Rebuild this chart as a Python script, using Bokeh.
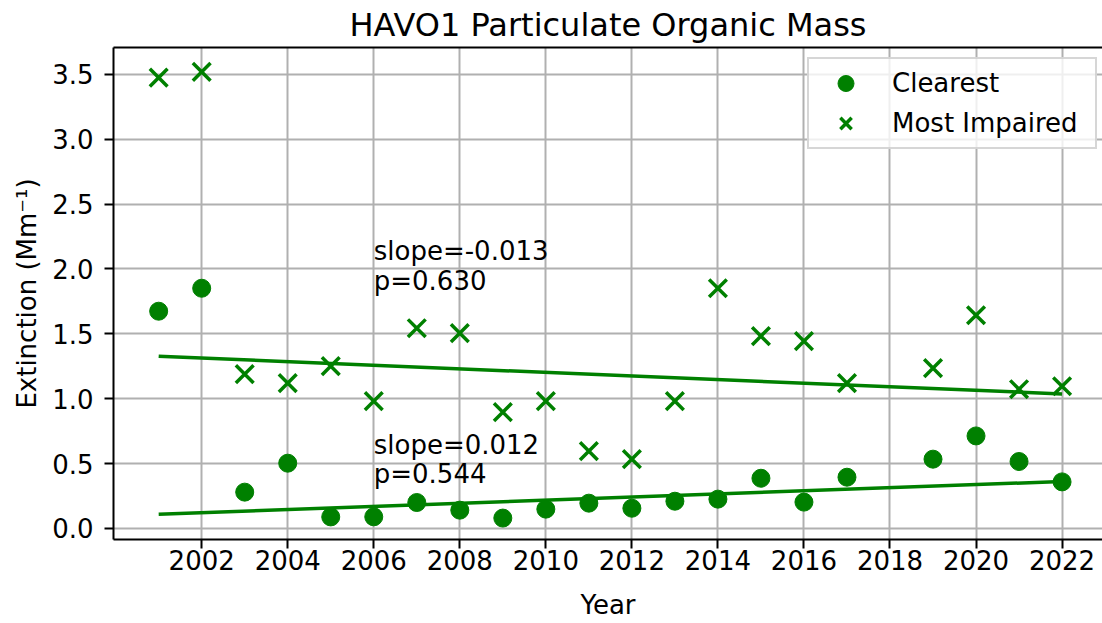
from bokeh.plotting import figure
from bokeh.models import (ColumnDataSource, FixedTicker, Range1d, LinearAxis,
                          PrintfTickFormatter)
from bokeh.core.properties import value
from bokeh.embed import file_html
from bokeh.resources import INLINE

# ---- data ----
years = [2001, 2002, 2003, 2004, 2005, 2006, 2007, 2008, 2009, 2010, 2011,
         2012, 2013, 2014, 2015, 2016, 2017, 2019, 2020, 2021, 2022]
clearest = [1.674, 1.851, 0.280, 0.503, 0.089, 0.090, 0.200, 0.141, 0.080, 0.149, 0.195,
            0.156, 0.210, 0.226, 0.387, 0.203, 0.395, 0.534, 0.713, 0.516, 0.359]
most_impaired = [3.474, 3.518, 1.189, 1.120, 1.251, 0.981, 1.543, 1.505, 0.896, 0.981, 0.596,
                 0.534, 0.981, 1.851, 1.482, 1.443, 1.120, 1.235, 1.643, 1.073, 1.096]
trend_years = [2001, 2022]
clearest_trend = [0.110, 0.362]
impaired_trend = [1.327, 1.037]
ann_clear = ["slope=0.012", "p=0.544"]
ann_impaired = ["slope=-0.013", "p=0.630"]
x_ticks = [2002, 2004, 2006, 2008, 2010, 2012, 2014, 2016, 2018, 2020, 2022]
y_ticks = [0.0, 0.5, 1.0, 1.5, 2.0, 2.5, 3.0, 3.5]

GREEN = "#008000"
FONT = "DejaVu Sans"

p = figure(width=1102, height=623, output_backend="svg", toolbar_location=None,
           x_range=Range1d(1999.95, 2022.94), y_range=Range1d(-0.085, 3.706),
           min_border_left=113, min_border_right=0, min_border_top=47,
           min_border_bottom=84, title="HAVO1 Particulate Organic Mass")

p.title.text_font = FONT
p.title.text_font_size = "32px"
p.title.text_font_style = "normal"
p.title.align = "center"
p.title.text_color = "black"
p.title.standoff = 7
p.outline_line_color = None

src = ColumnDataSource(dict(year=years, clear=clearest, imp=most_impaired))
tsrc = ColumnDataSource(dict(year=trend_years, clear=clearest_trend, imp=impaired_trend))

p.line("year", "imp", source=tsrc, line_color=GREEN, line_width=3.5)
p.line("year", "clear", source=tsrc, line_color=GREEN, line_width=3.5)
r1 = p.scatter("year", "clear", source=src, marker="circle", size=18,
               fill_color=GREEN, line_color=GREEN, legend_label="Clearest")
r2 = p.scatter("year", "imp", source=src, marker="x", size=25,
               line_color=GREEN, line_width=3.5, legend_label="Most Impaired")

# annotations
p.text(x=[2006, 2006], y=[2.139, 1.905], text=ann_impaired, text_font=value(FONT),
       text_font_size="26px", text_baseline="alphabetic", text_align="left",
       text_color="black")
p.text(x=[2006, 2006], y=[0.647, 0.416], text=ann_clear, text_font=value(FONT),
       text_font_size="26px", text_baseline="alphabetic", text_align="left",
       text_color="black")

# axes
for ax in (p.xaxis[0], p.yaxis[0]):
    ax.axis_line_width = 2
    ax.axis_line_color = "black"
    ax.major_tick_line_width = 2
    ax.major_tick_line_color = "black"
    ax.major_tick_out = 9
    ax.major_tick_in = 0
    ax.minor_tick_line_color = None
    ax.major_label_text_font = FONT
    ax.major_label_text_font_size = "26px"
    ax.major_label_text_color = "black"
    ax.axis_label_text_font = FONT
    ax.axis_label_text_font_size = "26px"
    ax.axis_label_text_font_style = "normal"
    ax.axis_label_text_color = "black"

p.xaxis.ticker = FixedTicker(ticks=x_ticks)
p.xaxis.formatter = PrintfTickFormatter(format="%d")
p.xaxis.axis_label = "Year"
p.xaxis.major_label_standoff = 1
p.xaxis.axis_label_standoff = 17

p.yaxis.ticker = FixedTicker(ticks=y_ticks)
p.yaxis.formatter = PrintfTickFormatter(format="%.1f")
p.yaxis.axis_label = "Extinction (Mm\u207b\u00b9)"
p.yaxis.major_label_standoff = 11
p.yaxis.axis_label_standoff = 7

top = LinearAxis(ticker=FixedTicker(ticks=[]), axis_line_width=2, axis_line_color="black",
                 major_tick_line_color=None, minor_tick_line_color=None,
                 major_label_text_font_size="0px")
p.add_layout(top, "above")

# grid
p.xgrid.ticker = FixedTicker(ticks=x_ticks)
p.ygrid.ticker = FixedTicker(ticks=y_ticks)
for g in (p.xgrid[0], p.ygrid[0]):
    g.grid_line_color = "#b0b0b0"
    g.grid_line_width = 2

# legend
lg = p.legend[0]
lg.location = (694, 390)
lg.label_text_font = FONT
lg.label_text_font_size = "26px"
lg.label_text_color = "black"
lg.padding = 4
lg.glyph_width = 65
lg.glyph_height = 40
lg.label_standoff = 14
lg.label_width = 199
lg.spacing = 0
lg.margin = 0
lg.border_line_color = "#cccccc"
lg.border_line_width = 2
lg.border_line_alpha = 0.8
lg.background_fill_color = "white"
lg.background_fill_alpha = 0.8

open("out.html", "w").write(file_html(p, INLINE))
